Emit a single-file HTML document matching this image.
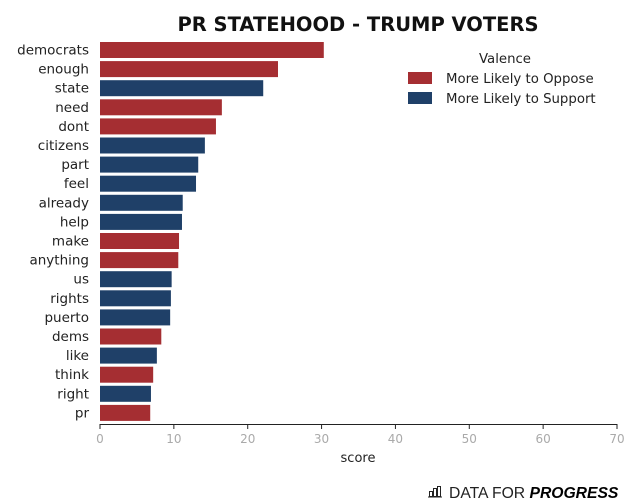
<!DOCTYPE html>
<html><head><meta charset="utf-8"><style>
body{margin:0;background:#fff;}
svg{display:block;font-family:"DejaVu Sans","Liberation Sans",sans-serif;}
</style></head><body>
<svg id="chart" width="640" height="504" viewBox="0 0 640 504">
<text x="358" y="31" text-anchor="middle" font-size="19.5" font-weight="bold" fill="#111">PR STATEHOOD - TRUMP VOTERS</text>
<g id="bars"></g>
<g id="xaxis"></g>
<text x="358" y="462" text-anchor="middle" font-size="13" fill="#222">score</text>
<g>
<text x="505" y="63" text-anchor="middle" font-size="13.3" fill="#222">Valence</text>
<rect x="408" y="72" width="24" height="12" fill="#a52e32"/>
<text x="446" y="83" font-size="13.3" fill="#222">More Likely to Oppose</text>
<rect x="408" y="92" width="24" height="12" fill="#1f4068"/>
<text x="446" y="103" font-size="13.3" fill="#222">More Likely to Support</text>
</g>
<g>
<g fill="none" stroke="#222" stroke-width="1">
<rect x="429.5" y="491.5" width="3" height="5"/><rect x="433.5" y="488.5" width="3" height="8"/><rect x="437.5" y="486.5" width="3" height="10"/><line x1="428" y1="497" x2="442" y2="497"/>
</g>
<text x="449" y="498" font-size="15.7" fill="#222" font-family="Liberation Sans, sans-serif">DATA FOR <tspan font-weight="bold" font-style="italic" fill="#000">PROGRESS</tspan></text>
</g>
</svg>
<script>
const categories=["democrats","enough","state","need","dont","citizens","part","feel","already","help","make","anything","us","rights","puerto","dems","like","think","right","pr"];
const scores=[30.3,24.1,22.1,16.5,15.7,14.2,13.3,13.0,11.2,11.1,10.7,10.6,9.7,9.6,9.5,8.3,7.7,7.2,6.9,6.8];
const valence=["O","O","S","O","O","S","S","S","S","S","O","O","S","S","S","O","S","O","S","O"];
const ticks=[0,10,20,30,40,50,60,70];
const NS="http://www.w3.org/2000/svg";
const x0=100,x1=617,xmax=70;
const xs=v=>x0+(v/xmax)*(x1-x0);
const y0=50,step=19.1,bh=16;
const ys=i=>y0+i*step;
const bars=document.getElementById('bars');
categories.forEach((c,i)=>{
  const r=document.createElementNS(NS,'rect');
  r.setAttribute('x',xs(0));r.setAttribute('y',ys(i)-bh/2);
  r.setAttribute('width',xs(scores[i])-xs(0));r.setAttribute('height',bh);
  r.setAttribute('fill',valence[i]==="O"?"#a52e32":"#1f4068");
  
  
  bars.appendChild(r);
  const t=document.createElementNS(NS,'text');
  t.setAttribute('x',89);t.setAttribute('y',ys(i)+4.5);
  t.setAttribute('text-anchor','end');t.setAttribute('font-size','13.5');t.setAttribute('fill','#222');
  t.textContent=c;
  
  
  bars.appendChild(t);
});
const ax=document.getElementById('xaxis');
const ln=document.createElementNS(NS,'line');
ln.setAttribute('x1',x0);ln.setAttribute('x2',x1);ln.setAttribute('y1',424.5);ln.setAttribute('y2',424.5);
ln.setAttribute('stroke','#222');


ax.appendChild(ln);
ticks.forEach(v=>{
  const tk=document.createElementNS(NS,'line');
  tk.setAttribute('x1',xs(v));tk.setAttribute('x2',xs(v));tk.setAttribute('y1',424);tk.setAttribute('y2',429);
  tk.setAttribute('stroke','#222');
  
  
  ax.appendChild(tk);
  const t=document.createElementNS(NS,'text');
  t.setAttribute('x',xs(v));t.setAttribute('y',443);t.setAttribute('text-anchor','middle');
  t.setAttribute('font-size','12');t.setAttribute('fill','#aaa');
  t.textContent=v;
  
  
  ax.appendChild(t);
});
</script>
</body></html>
